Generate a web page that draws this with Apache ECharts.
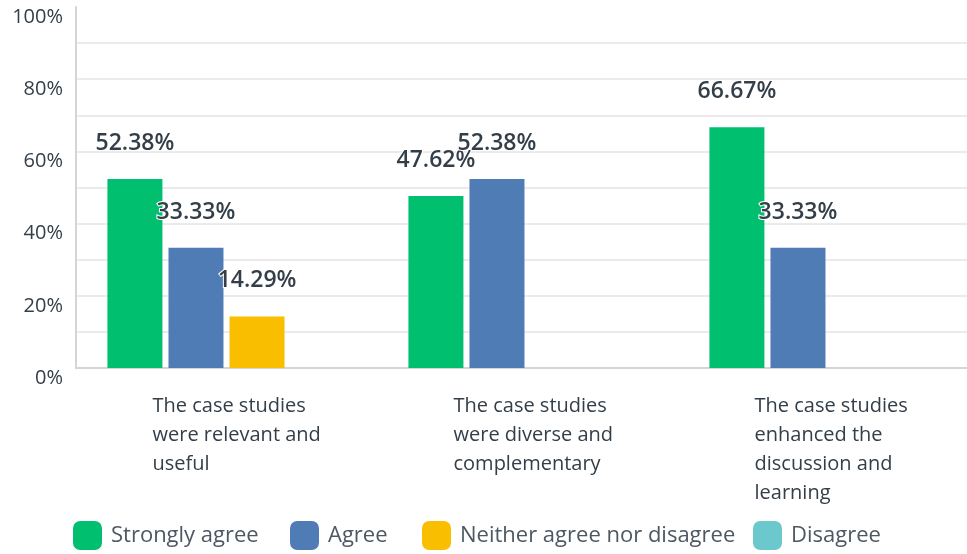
<!DOCTYPE html>
<html>
<head>
<meta charset="utf-8">
<script src="https://cdn.jsdelivr.net/npm/echarts@6/dist/echarts.min.js"></script>
<style>
  html, body { margin: 0; padding: 0; background: #fff; }
  #chart { width: 967px; height: 554px; }
</style>
</head>
<body>
<div id="chart"></div>
<script>
// Survey responses per statement, in percent
const categories = [
  'The case studies\nwere relevant and\nuseful',
  'The case studies\nwere diverse and\ncomplementary',
  'The case studies\nenhanced the\ndiscussion and\nlearning'
];
const seriesNames = ['Strongly agree', 'Agree', 'Neither agree nor disagree', 'Disagree'];
const stronglyAgree = [52.38, 47.62, 66.67];
const agree = [33.33, 52.38, 33.33];
const neither = [14.29, 0, 0];
const disagree = [0, 0, 0];
const yTicks = [0, 20, 40, 60, 80, 100];

const colors = ['#00bf6f', '#507cb6', '#f9be00', '#6bc8cd'];
const legendLefts = [73, 290, 422, 753];
const FONT = '"Open Sans", sans-serif';
const TEXT = '#333e48';

function makeSeries(name, data, color) {
  return {
    name: name,
    type: 'bar',
    data: data,
    barWidth: 55,
    barGap: '11%',
    itemStyle: { color: color },
    label: {
      show: true,
      position: 'top',
      distance: 24,
      fontFamily: FONT,
      fontSize: 23,
      fontWeight: 600,
      color: TEXT,
      textBorderColor: '#fff',
      textBorderWidth: 2,
      formatter: p => (p.value ? p.value.toFixed(2) + '%' : '')
    }
  };
}

// one legend block per series so each entry sits at its own spot
const legends = seriesNames.map((name, i) => ({
  left: legendLefts[i],
  top: 521,
  padding: 0,
  itemWidth: 29,
  itemHeight: 29,
  icon: 'roundRect',
  data: [name],
  textStyle: { fontFamily: FONT, fontSize: 22, color: '#4d5863', padding: [0, 0, 0, 4] }
}));

const chart = echarts.init(document.getElementById('chart'), null, { renderer: 'canvas' });
chart.setOption({
  animation: false,
  textStyle: { fontFamily: FONT },
  // the plot runs a little past the right edge of the canvas
  grid: { left: 76, width: 903, top: 7, bottom: 186, containLabel: false, outerBoundsMode: 'none' },
  legend: legends,
  xAxis: {
    type: 'category',
    data: categories,
    axisLine: { lineStyle: { color: '#d4d4d4', width: 2 } },
    axisTick: { show: false },
    axisLabel: {
      margin: 24,
      formatter: v => '{a|' + v.split('\n').join('}\n{a|') + '}',
      width: 148,
      overflow: 'none',
      rich: {
        a: { fontFamily: FONT, fontSize: 20, lineHeight: 29, color: TEXT, align: 'left' }
      }
    }
  },
  yAxis: {
    type: 'value',
    min: 0,
    max: 100,
    interval: 10,
    axisLine: { show: true, lineStyle: { color: '#d4d4d4', width: 2 } },
    axisTick: { show: false },
    splitLine: { lineStyle: { color: '#ebebeb', width: 2 }, showMaxLine: false },
    axisLabel: {
      margin: 13,
      verticalAlign: 'top',
      fontFamily: FONT,
      fontSize: 20,
      color: TEXT,
      formatter: v => (yTicks.indexOf(v) >= 0 ? v + '%' : '')
    }
  },
  series: [
    makeSeries(seriesNames[0], stronglyAgree, colors[0]),
    makeSeries(seriesNames[1], agree, colors[1]),
    makeSeries(seriesNames[2], neither, colors[2]),
    makeSeries(seriesNames[3], disagree, colors[3])
  ]
});
</script>
</body>
</html>
